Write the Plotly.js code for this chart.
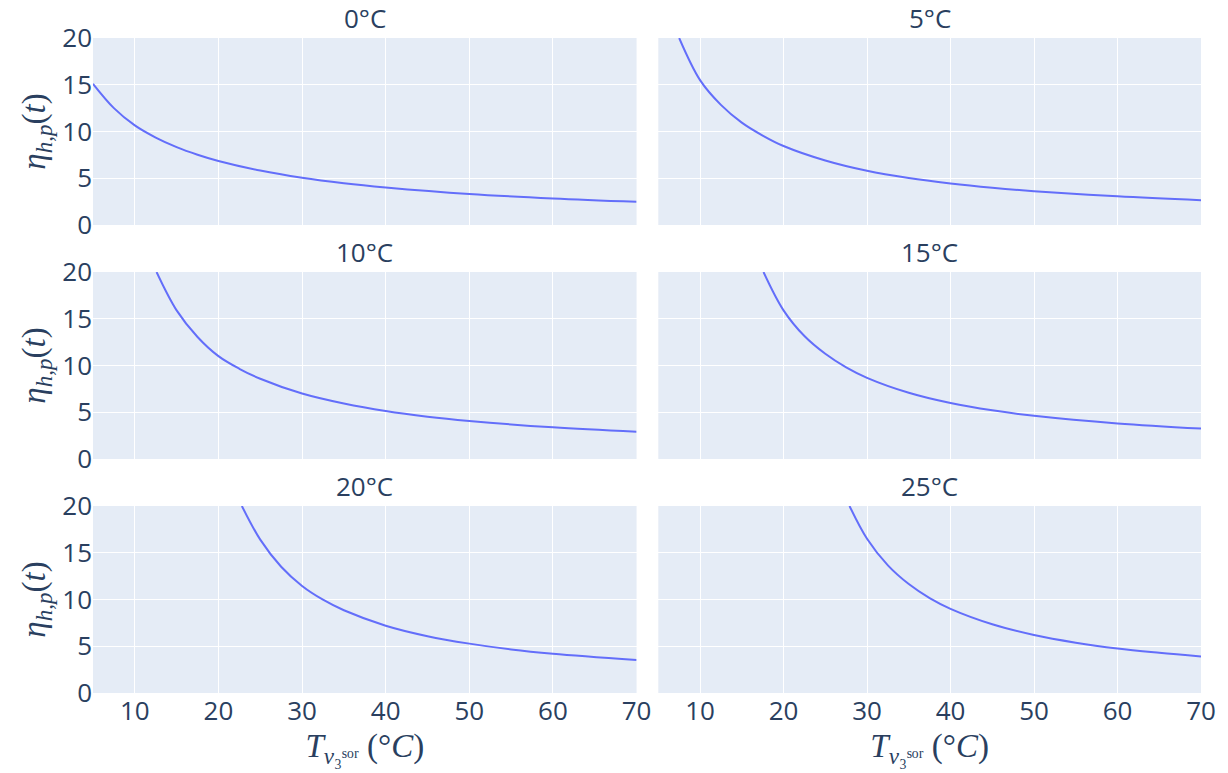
<!DOCTYPE html>
<html>
<head>
<meta charset="utf-8">
<script src="https://cdn.plot.ly/plotly-3.0.1.min.js"></script>
<style>html,body{margin:0;padding:0;background:#fff;}#chart{width:1228px;height:773px;}</style>
</head>
<body>
<div id="chart"></div>
<script>
// Panel titles (source temperature)
const panelTitles = ["0°C", "5°C", "10°C", "15°C", "20°C", "25°C"];

// Sink temperature (x) and efficiency (y)
const x0C  = [5, 7.5, 10, 12.5, 15, 17.5, 20, 25, 30, 35, 40, 50, 60, 70];
const y0C  = [15.1, 12.5, 10.65, 9.35, 8.33, 7.52, 6.85, 5.82, 5.05, 4.47, 4.02, 3.32, 2.84, 2.48];

const x5C  = [7.5, 10, 12.5, 15, 17.5, 20, 25, 30, 35, 40, 45, 50, 60, 70];
const y5C  = [20, 15.5, 12.85, 10.95, 9.57, 8.45, 6.9, 5.8, 5.03, 4.45, 3.99, 3.62, 3.07, 2.66];

const x10C = [12.6, 15, 17.5, 20, 22.5, 25, 30, 35, 40, 45, 50, 60, 70];
const y10C = [20, 15.9, 13.05, 11.0, 9.65, 8.58, 7.0, 5.93, 5.12, 4.52, 4.07, 3.38, 2.9];

const x15C = [17.6, 20, 22.5, 25, 27.5, 30, 35, 40, 45, 50, 60, 70];
const y15C = [20, 15.9, 13.15, 11.25, 9.8, 8.68, 7.08, 5.98, 5.2, 4.62, 3.8, 3.25];

const x20C = [22.8, 25, 27.5, 30, 32.5, 35, 40, 45, 50, 55, 60, 70];
const y20C = [20, 16.4, 13.5, 11.45, 9.98, 8.85, 7.2, 6.08, 5.28, 4.66, 4.2, 3.52];

const x25C = [27.9, 30, 32.5, 35, 37.5, 40, 45, 50, 55, 60, 65, 70];
const y25C = [20, 16.5, 13.65, 11.65, 10.15, 9.0, 7.35, 6.2, 5.38, 4.76, 4.3, 3.9];

const xs = [x0C, x5C, x10C, x15C, x20C, x25C];
const ys = [y0C, y5C, y10C, y15C, y20C, y25C];

const xTickVals = [10, 20, 30, 40, 50, 60, 70];
const yTickVals = [0, 5, 10, 15, 20];

const textColor = "#2a3f5f";
const xDomains = [[0, 0.4906], [0.5102, 1]];
const yDomains = [[0.7145, 1], [0.3573, 0.6427], [0, 0.2855]];

const traces = [];
const layout = {
  width: 1228, height: 773,
  margin: {l: 93, r: 27, t: 38, b: 80},
  paper_bgcolor: "#ffffff",
  plot_bgcolor: "#E5ECF6",
  font: {family: "'Open Sans', verdana, arial, sans-serif", size: 26, color: textColor},
  showlegend: false,
  annotations: []
};

const yTitle = "<i>η</i><sub><i>h,p</i></sub>(<i>t</i>)";
const xTitle = "<i>T</i><sub><i>v</i>₃ˢᵒʳ</sub> (°<i>C</i>)";
const mathFont = {family: "'Liberation Serif', 'DejaVu Serif', serif", size: 33, color: textColor};

for (let i = 0; i < 6; i++) {
  const row = Math.floor(i / 2), col = i % 2;
  const n = i + 1;
  const xa = "x" + (n === 1 ? "" : n), ya = "y" + (n === 1 ? "" : n);
  traces.push({
    x: xs[i], y: ys[i], type: "scatter", mode: "lines",
    line: {color: "#636efa", width: 2, shape: "spline", smoothing: 1},
    xaxis: xa, yaxis: ya, hoverinfo: "skip"
  });
  const xKey = "xaxis" + (n === 1 ? "" : n), yKey = "yaxis" + (n === 1 ? "" : n);
  layout[xKey] = {
    domain: xDomains[col], anchor: ya, range: [5, 70],
    tickvals: xTickVals, showticklabels: row === 2,
    gridcolor: "#ffffff", gridwidth: 1, zeroline: false, showline: false, ticks: "",
    tickfont: {size: 26, color: textColor}
  };
  if (row === 2) layout[xKey].title = {text: xTitle, font: mathFont, standoff: 4};
  layout[yKey] = {
    domain: yDomains[row], anchor: xa, range: [0, 20],
    tickvals: yTickVals, showticklabels: col === 0,
    gridcolor: "#ffffff", gridwidth: 1, zeroline: false, showline: false, ticks: "",
    tickfont: {size: 26, color: textColor}
  };
  if (col === 0) layout[yKey].title = {text: yTitle, font: mathFont, standoff: 6};
  layout.annotations.push({
    text: panelTitles[i], showarrow: false,
    x: (xDomains[col][0] + xDomains[col][1]) / 2, xref: "paper", xanchor: "center",
    y: yDomains[row][1], yref: "paper", yanchor: "bottom",
    font: {size: 26, color: textColor}
  });
}

Plotly.newPlot("chart", traces, layout, {displayModeBar: false, staticPlot: true});
</script>
</body>
</html>
